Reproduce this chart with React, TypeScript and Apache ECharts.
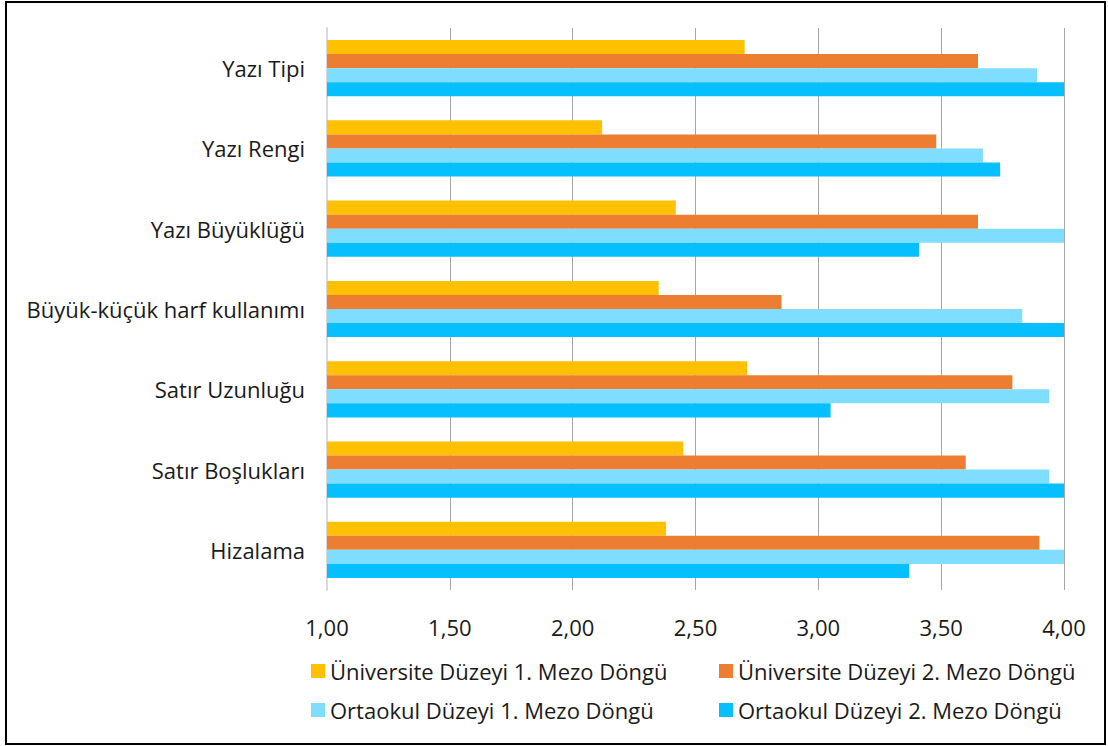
import React, { useEffect, useRef } from "react";
import * as echarts from "echarts";

const categories = [
  "Yazı Tipi",
  "Yazı Rengi",
  "Yazı Büyüklüğü",
  "Büyük-küçük harf kullanımı",
  "Satır Uzunluğu",
  "Satır Boşlukları",
  "Hizalama",
];
const seriesNames = [
  "Üniversite Düzeyi 1. Mezo Döngü",
  "Üniversite Düzeyi 2. Mezo Döngü",
  "Ortaokul Düzeyi 1. Mezo Döngü",
  "Ortaokul Düzeyi 2. Mezo Döngü",
];
const uni1 = [2.7, 2.12, 2.42, 2.35, 2.71, 2.45, 2.38];
const uni2 = [3.65, 3.48, 3.65, 2.85, 3.79, 3.6, 3.9];
const orta1 = [3.89, 3.67, 4.0, 3.83, 3.94, 3.94, 4.0];
const orta2 = [4.0, 3.74, 3.41, 4.0, 3.05, 4.0, 3.37];
const colors = ["#FFC000", "#ED7D31", "#7FDDFF", "#05BFFF"];
const allData = [uni1, uni2, orta1, orta2];

const FONT = "'Open Sans', sans-serif";
const FS = 22;

export default function App() {
  const ref = useRef<HTMLDivElement>(null);
  useEffect(() => {
    const chart = echarts.init(ref.current!, undefined, { renderer: "svg" });
    chart.setOption({
      animation: false,
      textStyle: { fontFamily: FONT },
      graphic: [
        {
          type: "rect",
          shape: { x: 6, y: 2, width: 1099, height: 742 },
          style: { fill: "none", stroke: "#000", lineWidth: 2 },
          silent: true,
        },
      ],
      grid: { left: 327, right: 44, top: 28, bottom: 156, containLabel: false },
      xAxis: {
        type: "value",
        min: 1,
        max: 4,
        interval: 0.5,
        axisLine: { show: false },
        axisTick: { show: false },
        splitLine: { show: true, lineStyle: { color: "#a6a6a6", width: 1 } },
        axisLabel: {
          color: "#1a1a1a",
          fontSize: FS,
          fontFamily: FONT,
          margin: 26,
          formatter: (v: number) => v.toFixed(2).replace(".", ","),
        },
      },
      yAxis: {
        type: "category",
        data: categories,
        inverse: true,
        axisLine: { show: true, lineStyle: { color: "#d9d9d9", width: 2 } },
        axisTick: { show: false },
        axisLabel: { color: "#1a1a1a", fontSize: FS, fontFamily: FONT, margin: 22 },
      },
      legend: [
        {
          data: [seriesNames[0], seriesNames[2]],
          orient: "vertical",
          left: 306,
          top: 655,
          itemWidth: 14,
          itemHeight: 14,
          itemGap: 17,
          icon: "rect",
          textStyle: { fontSize: FS, color: "#1a1a1a", fontFamily: FONT },
        },
        {
          data: [seriesNames[1], seriesNames[3]],
          orient: "vertical",
          left: 714,
          top: 655,
          itemWidth: 14,
          itemHeight: 14,
          itemGap: 17,
          icon: "rect",
          textStyle: { fontSize: FS, color: "#1a1a1a", fontFamily: FONT },
        },
      ],
      series: allData.map((d, i) => ({
        type: "bar",
        name: seriesNames[i],
        data: d,
        barGap: "0%",
        barCategoryGap: "30%",
        itemStyle: { color: colors[i] },
      })),
    });
    return () => chart.dispose();
  }, []);
  return (
    <div
      ref={ref}
      style={{ position: "fixed", left: 0, top: 0, width: 1108, height: 746, background: "#fff" }}
    />
  );
}
